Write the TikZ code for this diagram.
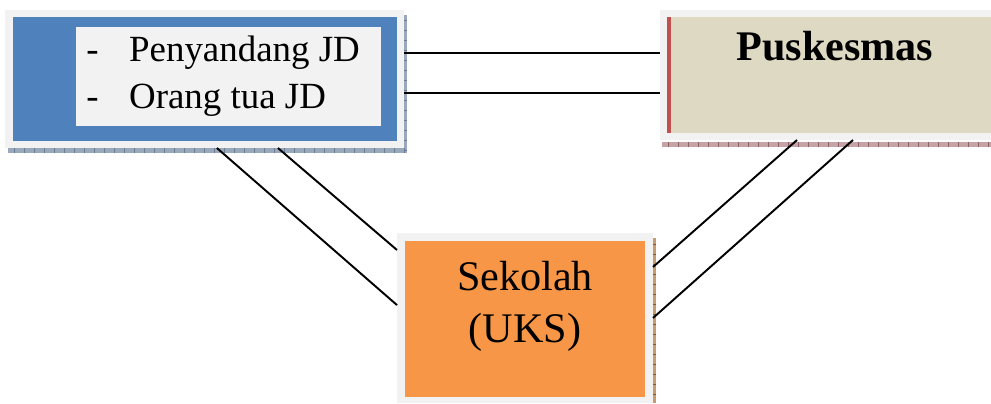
\documentclass[tikz,border=0pt]{standalone}
\usepackage{fontspec}
\setmainfont{Liberation Serif}
\usetikzlibrary{fit,calc}
\definecolor{framegray}{HTML}{F2F2F2}
\definecolor{famblue}{HTML}{4F81BD}
\definecolor{puskbeige}{HTML}{DDD9C3}
\definecolor{puskred}{HTML}{C0504D}
\definecolor{sekorange}{HTML}{F79646}
\definecolor{blueshade}{HTML}{9AA8BC}
\definecolor{bluetick}{HTML}{6A7C96}
\definecolor{redshade}{HTML}{C4A4A6}
\definecolor{redtick}{HTML}{8E5F63}
\definecolor{brownshade}{HTML}{C89A70}
\definecolor{browntick}{HTML}{8A5A30}

\begin{document}
\begin{tikzpicture}[x=0.02cm, y=-0.02cm,
    panel/.style={inner sep=0pt, outer sep=0pt},
    item/.style={anchor=base west, inner sep=0pt, font=\fontsize{21}{25}\selectfont},
    title/.style={anchor=base, inner sep=0pt, font=\fontsize{24}{28}\selectfont},
    tick/.style={line width=0.5pt},
    link/.style={draw=black, line width=1.1pt}
  ]
    \useasboundingbox (0,0) rectangle (991,403);

    % penyandang / orang tua
    \fill[blueshade] (8,148) rectangle (407,153);
    \fill[blueshade] (404,15) rectangle (407,153);
    \foreach \x in {14,24,...,404} \draw[tick, bluetick] (\x,148) -- (\x,153);
    \foreach \y in {20,30,...,150} \draw[tick, bluetick] (404,\y) -- (407,\y);
    \node[panel, fill=framegray, fit={(5,10) (404,148)}] (famframe) {};
    \node[panel, fill=famblue, fit={(13,17) (397,141)}] (famfill) {};
    \node[panel, fill=framegray, fit={(76,27) (381,126)}] (famlist) {};
    \node[item] (famA) at (86,61) {\makebox[24.4pt][l]{-}Penyandang JD};
    \node[item] (famB) at (86,108) {\makebox[24.4pt][l]{-}Orang tua JD};

    % puskesmas
    \fill[redshade] (662,142) rectangle (991,147);
    \foreach \x in {668,678,...,988} \draw[tick, redtick] (\x,142) -- (\x,147);
    \node[panel, fill=framegray, fit={(660,10) (991,140)}] (puskframe) {};
    \node[panel, fill=puskbeige, fit={(667,17) (991,133)}] (puskfill) {};
    \fill[puskred] (667,17) rectangle (671,133);
    \node[title, font=\fontsize{24}{28}\selectfont\bfseries] (pusk) at (835,60) {Puskesmas};

    % sekolah
    \fill[brownshade] (653,238) rectangle (656,403);
    \foreach \y in {244,254,...,400} \draw[tick, browntick] (653,\y) -- (656,\y);
    \node[panel, fill=framegray, fit={(397,233) (653,403)}] (sekframe) {};
    \node[panel, fill=sekorange, fit={(405,241) (645,397)}] (sekfill) {};
    \node[title] (sekA) at (525,290) {Sekolah};
    \node[title] (sekB) at (525,342) {(UKS)};

    % hubungan
    \coordinate (h1) at ($(famframe.north east)!.312!(famframe.south east)$);
    \coordinate (h2) at ($(famframe.north east)!.602!(famframe.south east)$);
    \draw[link] (h1) -- (h1 -| puskframe.west);
    \draw[link] (h2) -- (h2 -| puskframe.west);
    \draw[link] ($(famframe.south west)!.531!(famframe.south east)$) -- ($(sekframe.north west)!.424!(sekframe.south west)$);
    \draw[link] ($(famframe.south west)!.684!(famframe.south east)$) -- ($(sekframe.north west)!.1!(sekframe.south west)$);
    \draw[link] ($(puskframe.south west)!.414!(puskframe.south east)$) -- ($(sekframe.north east)!.2!(sekframe.south east)$);
    \draw[link] ($(puskframe.south west)!.583!(puskframe.south east)$) -- ($(sekframe.north east)!.5!(sekframe.south east)$);
  \end{tikzpicture}
\end{document}
